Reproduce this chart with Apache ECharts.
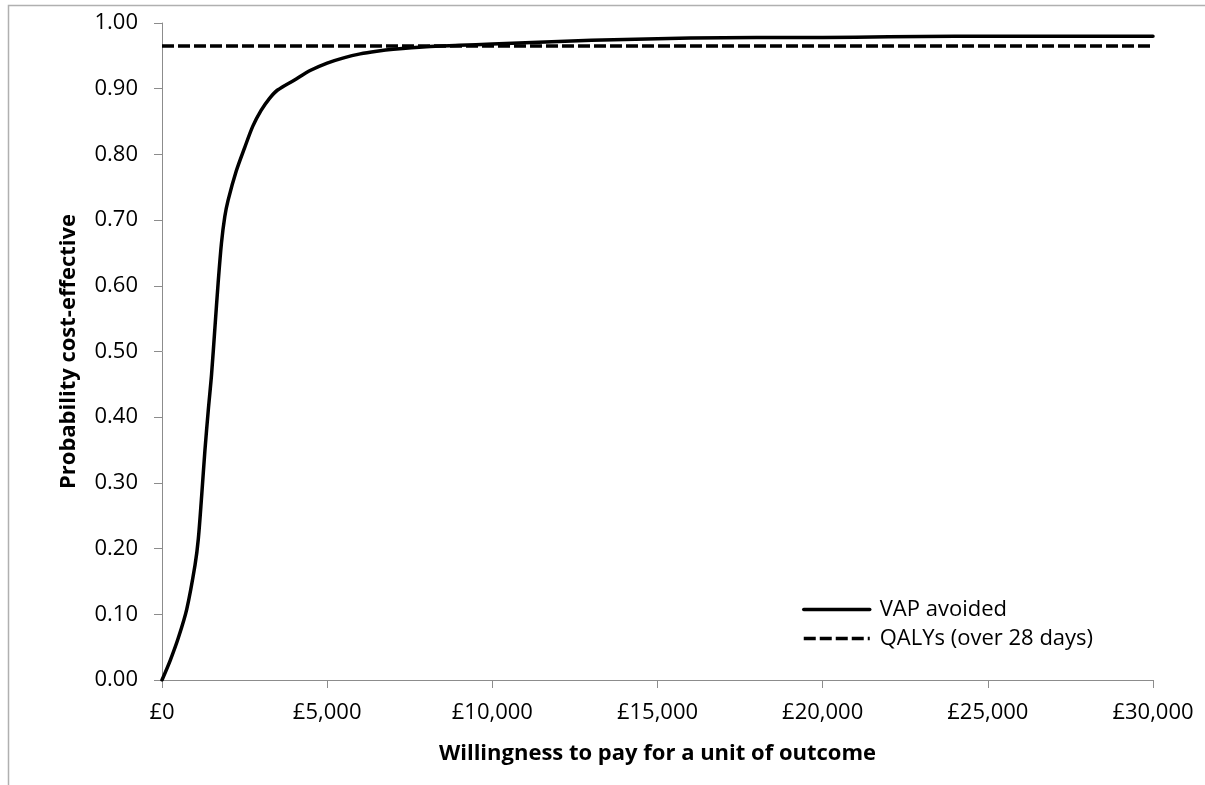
<!DOCTYPE html>
<html>
<head>
<meta charset="utf-8">
<title>Cost-effectiveness acceptability curve</title>
<script src="https://cdn.jsdelivr.net/npm/echarts@6/dist/echarts.min.js"></script>
<style>
  html, body { margin: 0; padding: 0; background: #ffffff; }
  #chart { width: 1205px; height: 785px; }
</style>
</head>
<body>
<div id="chart"></div>
<script>
// Willingness-to-pay thresholds (£ per unit of outcome)
const wtp = [0, 250, 500, 750, 1000, 1100, 1200, 1300, 1400, 1500, 1600, 1700, 1800, 1900, 2000,
             2250, 2500, 2750, 3000, 3250, 3500, 4000, 4500, 5000, 5500, 6000, 6500, 7000, 8000,
             9000, 10000, 12000, 14000, 16000, 18000, 20000, 22000, 24000, 26000, 28000, 30000];

// Probability cost-effective, outcome = VAP avoided
const vapAvoided = [0.000, 0.030, 0.065, 0.108, 0.175, 0.215, 0.280, 0.350, 0.410, 0.465, 0.535, 0.605, 0.665, 0.705, 0.730,
                    0.775, 0.810, 0.843, 0.867, 0.885, 0.898, 0.913, 0.928, 0.939, 0.947, 0.953, 0.957, 0.960, 0.964,
                    0.966, 0.968, 0.972, 0.975, 0.977, 0.978, 0.978, 0.979, 0.980, 0.980, 0.980, 0.980];

// Probability cost-effective, outcome = QALYs over 28 days (flat across the range)
const qalyWtp = [0, 30000];
const qalys = [0.965, 0.965];

const seriesNames = ['VAP avoided', 'QALYs (over 28 days)'];
const xTicks = [0, 5000, 10000, 15000, 20000, 25000, 30000];

const font = '"Open Sans", "Noto Sans", sans-serif';
const axisGrey = '#8c8c8c';

const chart = echarts.init(document.getElementById('chart'), null, { renderer: 'canvas' });

chart.setOption({
  animation: false,
  backgroundColor: '#ffffff',
  textStyle: { fontFamily: font, color: '#000000' },
  graphic: [{
    type: 'rect',
    silent: true,
    z: -10,
    shape: { x: 8.5, y: 5.5, width: 1400, height: 1000 },
    style: { fill: 'none', stroke: '#b0b0b0', lineWidth: 1.5 }
  }],
  grid: { left: 162, right: 52, top: 23, bottom: 105, containLabel: false },
  legend: {
    orient: 'vertical',
    left: 797,
    top: 590,
    itemWidth: 66,
    itemHeight: 14,
    itemGap: 0,
    data: seriesNames,
    // line-only keys: hide the marker drawn in the middle of each key
    itemStyle: { opacity: 0, color: 'rgba(0,0,0,0)', borderWidth: 0 },
    lineStyle: { width: 3.5 },
    textStyle: { fontFamily: font, fontSize: 22, lineHeight: 29, color: '#000000', padding: [0, 0, 0, 5] }
  },
  xAxis: {
    type: 'value',
    min: 0,
    max: 30000,
    interval: 5000,
    name: 'Willingness to pay for a unit of outcome',
    nameLocation: 'middle',
    nameGap: 63,
    nameTextStyle: { fontFamily: font, fontSize: 22, fontWeight: 'bold', color: '#000000' },
    axisLine: { show: true, onZero: false, lineStyle: { color: axisGrey, width: 1 } },
    axisTick: { show: true, inside: false, length: 8, lineStyle: { color: axisGrey } },
    axisLabel: {
      margin: 22,
      fontFamily: font,
      fontSize: 22,
      color: '#000000',
      customValues: xTicks,
      formatter: v => '£' + v.toLocaleString('en-GB')
    },
    splitLine: { show: false }
  },
  yAxis: {
    type: 'value',
    min: 0,
    max: 1,
    interval: 0.1,
    name: 'Probability cost-effective',
    nameLocation: 'middle',
    nameGap: 82,
    nameTextStyle: { fontFamily: font, fontSize: 22, fontWeight: 'bold', color: '#000000' },
    axisLine: { show: true, lineStyle: { color: axisGrey, width: 1 } },
    axisTick: { show: true, inside: false, length: 8, lineStyle: { color: axisGrey } },
    axisLabel: {
      margin: 24,
      fontFamily: font,
      fontSize: 22,
      color: '#000000',
      formatter: v => v.toFixed(2)
    },
    splitLine: { show: false }
  },
  series: [
    {
      name: seriesNames[0],
      type: 'line',
      data: wtp.map((x, i) => [x, vapAvoided[i]]),
      smooth: 0.3,
      symbol: 'none',
      showSymbol: false,
      lineStyle: { color: '#000000', width: 3.5, cap: 'round', join: 'round' },
      itemStyle: { color: '#000000' },
      z: 3
    },
    {
      name: seriesNames[1],
      type: 'line',
      data: qalyWtp.map((x, i) => [x, qalys[i]]),
      symbol: 'none',
      showSymbol: false,
      lineStyle: { color: '#000000', width: 3.5, type: [12, 4], cap: 'butt' },
      itemStyle: { color: '#000000' },
      z: 2
    }
  ]
});
</script>
</body>
</html>
